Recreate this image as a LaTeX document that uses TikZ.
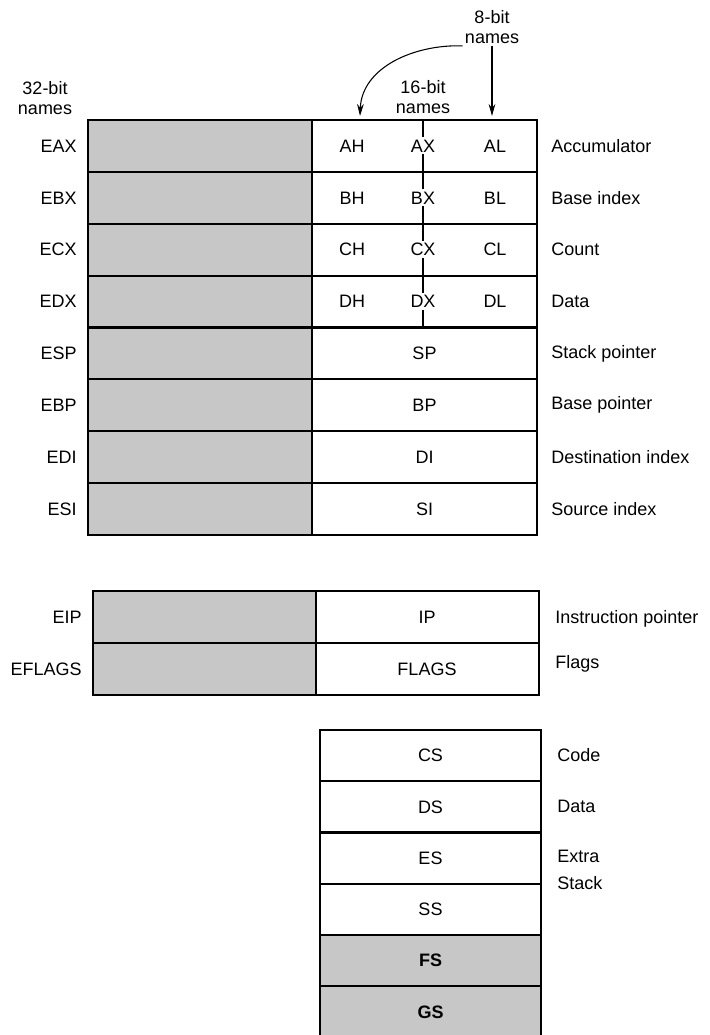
\documentclass[tikz,border=0pt]{standalone}
\usepackage{fontspec}
\setmainfont{Liberation Sans}
\usetikzlibrary{arrows.meta}
\tikzset{
    lbl/.style={font=\fontsize{13.5}{15}\selectfont, inner sep=1.5pt},
    hibox/.style={draw, line width=1.6pt, fill=black!22},
    lobox/.style={draw, line width=1.6pt, fill=white},
    ptr/.style={-{Stealth[length=9pt,width=5pt]}, line width=0.8pt},
}
\begin{document}
\begin{tikzpicture}[x=0.75pt,y=-0.75pt]
    \useasboundingbox (0,0) rectangle (710,1035);
    % general purpose registers
    \foreach \i in {0,...,7}{
        \draw[hibox] (88,120+\i*51.875) rectangle (312,171.875+\i*51.875);
        \draw[lobox] (312,120+\i*51.875) rectangle (537,171.875+\i*51.875);
    }
    \foreach \a/\rn [count=\i] in {A/Accumulator, B/Base index, C/Count, D/Data}{
        \node[lbl, anchor=east] (e\a) at (79,94.06+\i*51.875) {E\a X};
        \node[lbl] (h\a) at (352,94.06+\i*51.875) {\a H};
        \node[lbl] (x\a) at (423,94.06+\i*51.875) {\a X};
        \node[lbl] (l\a) at (495,94.06+\i*51.875) {\a L};
        \node[lbl, anchor=west] (n\a) at (549,94.06+\i*51.875) {\rn};
    }
    \foreach \r/\rn [count=\i from 5] in {SP/Stack pointer, BP/Base pointer, DI/Destination index, SI/Source index}{
        \node[lbl, anchor=east] (e\r) at (79,94.06+\i*51.875) {E\r};
        \node[lbl] (x\r) at (424.5,94.06+\i*51.875) {\r};
        \node[lbl, anchor=west] (n\r) at (549,94.06+\i*51.875) {\rn};
    }
    \coordinate (axtop) at (423,120);
    \coordinate (dxbot) at (423,327.5);
    \draw[line width=0.8pt] (axtop) -- (xA) (xA) -- (xB) (xB) -- (xC) (xC) -- (xD) (xD) -- (dxbot);

    % headings and arrows
    \node[lbl, align=center] (n32) at (45,98) {32-bit\\names};
    \node[lbl, align=center] (n16) at (423,97) {16-bit\\names};
    \node[lbl, align=center] (n8) at (492,27) {8-bit\\names};
    \coordinate (ahtip) at (360,116);
    \coordinate (altip) at (492,116);
    \draw[ptr] (n8) -- (altip);
    \draw[ptr] (n8.south west) to[out=178, in=88] (ahtip);

    % pointer and flags
    \draw[hibox] (93,591) rectangle (316,643);
    \draw[lobox] (316,591) rectangle (539,643);
    \draw[hibox] (93,643) rectangle (316,695);
    \draw[lobox] (316,643) rectangle (539,695);
    \node[lbl, anchor=east] (eip) at (84,617) {EIP};
    \node[lbl] (ip) at (427,617) {IP};
    \node[lbl, anchor=west] (nip) at (553,619) {Instruction pointer};
    \node[lbl, anchor=east] (eflags) at (84,669) {EFLAGS};
    \node[lbl] (flags) at (427,669) {FLAGS};
    \node[lbl, anchor=west] (nflags) at (553,664) {Flags};

    % segment registers
    \foreach \s [count=\i from 0] in {CS, DS, ES, SS}{
        \draw[lobox] (320,730+\i*51.25) rectangle (541,781.25+\i*51.25);
        \node[lbl] (s\s) at (430.5,755.6+\i*51.25) {\s};
    }
    \foreach \s [count=\i from 4] in {FS, GS}{
        \draw[hibox] (320,730+\i*51.25) rectangle (541,781.25+\i*51.25);
        \node[lbl, font=\fontsize{13.5}{15}\selectfont\bfseries] (s\s) at (430.5,755.6+\i*51.25) {\s};
    }
    \node[lbl, anchor=west] (nCS) at (555,755) {Code};
    \node[lbl, anchor=west] (nDS) at (555,806) {Data};
    \node[lbl, anchor=west] (nES) at (555,856) {Extra};
    \node[lbl, anchor=west] (nSS) at (555,883) {Stack};
\end{tikzpicture}
\end{document}
